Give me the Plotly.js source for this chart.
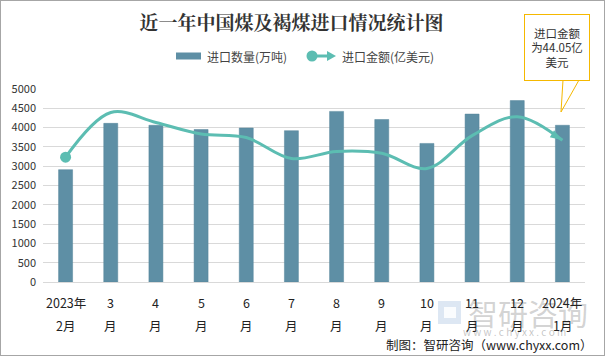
<!DOCTYPE html>
<html><head><meta charset="utf-8">
<script src="https://cdn.plot.ly/plotly-3.0.1.min.js"></script>
<style>
html,body{margin:0;padding:0;background:#fff;}
#c{width:605px;height:356px;box-sizing:border-box;border:1px solid #a6a6a6;}
</style></head><body>
<div id="c"></div>
<script>
const categories = ['2023年2月','3月','4月','5月','6月','7月','8月','9月','10月','11月','12月','2024年1月'];
const tickTop = ['2023年','3','4','5','6','7','8','9','10','11','12','2024年'];
const tickBottom = ['2月','月','月','月','月','月','月','月','月','月','月','1月'];
const volume = [2910, 4110, 4060, 3950, 3990, 3920, 4420, 4210, 3590, 4350, 4700, 4060];
const amount = [38.8, 52.7, 49.6, 46.0, 44.9, 38.4, 40.6, 40.0, 35.3, 45.5, 51.4, 44.05];
const yTicks = [0,500,1000,1500,2000,2500,3000,3500,4000,4500,5000];
const seriesNames = ['进口数量(万吨)', '进口金额(亿美元)'];

const font = '"Microsoft YaHei", "Noto Sans CJK SC", sans-serif';
const barColor = '#5E8FA5';
const lineColor = '#5CBDB2';
const n = amount.length;

const traces = [
  {type:'bar', name:seriesNames[0], x:categories, y:volume,
   marker:{color:barColor, line:{color:'#55849a', width:0.5}}, width:0.31},
  {type:'scatter', mode:'lines', name:seriesNames[1], x:categories, y:amount, yaxis:'y2',
   line:{color:lineColor, width:3, shape:'spline', smoothing:1}},
  {type:'scatter', mode:'markers', x:[categories[0]], y:[amount[0]], yaxis:'y2',
   marker:{color:lineColor, symbol:'circle', size:11}},
  {type:'scatter', mode:'markers', x:[categories[n-1]], y:[amount[n-1]], yaxis:'y2',
   marker:{color:lineColor, symbol:'arrow', size:13, angle:122, standoff:0}}
];

// helpers: paper coords from pixel coords (plot area 42..584 x, 88..281 y)
const PL=42, PR=584, PT=88, PB=281;
const px = v => (v-PL)/(PR-PL);
const py = v => (PB-v)/(PB-PT);

const annotations = [];
// watermark first so that axis labels sit on top of it
annotations.push(
  {xref:'paper', yref:'paper', x:px(527), y:py(311), xanchor:'center', yanchor:'middle', showarrow:false,
   text:'智研咨询', font:{size:30, color:'rgba(150,150,150,0.42)'}},
  {xref:'paper', yref:'paper', x:px(513), y:py(330), xanchor:'center', yanchor:'middle', showarrow:false,
   text:'w w w . c h y x x . c o m', font:{size:10, color:'rgba(150,150,150,0.55)'}}
);
categories.forEach((c,i)=>{
  annotations.push({xref:'x', yref:'paper', x:c, y:py(301), showarrow:false, xanchor:'center', yanchor:'middle',
    text:tickTop[i], font:{size:12.5, color:'#222'}});
  annotations.push({xref:'x', yref:'paper', x:c, y:py(324), showarrow:false, xanchor:'center', yanchor:'middle',
    text:tickBottom[i], font:{size:12.5, color:'#222'}});
});
annotations.push(
  {xref:'paper', yref:'paper', x:px(594), y:py(343), xanchor:'right', yanchor:'middle', showarrow:false,
   text:'制图：智研咨询（www.chyxx.com）', font:{family:'"Noto Sans CJK SC", sans-serif', size:12.5, color:'#222'}},
  {xref:'paper', yref:'paper', x:px(204), y:py(55), xanchor:'left', yanchor:'middle', showarrow:false,
   text:seriesNames[0], font:{size:12, color:'#444'}},
  {xref:'paper', yref:'paper', x:px(339), y:py(55), xanchor:'left', yanchor:'middle', showarrow:false,
   text:seriesNames[1], font:{size:12, color:'#444'}},
  {xref:'paper', yref:'paper', x:px(556), y:py(46.5), xanchor:'center', yanchor:'middle', showarrow:false,
   text:'进口金额<br>为44.05亿<br>美元', align:'center', font:{size:11.5, color:'#333'},
   bordercolor:'#F5B800', borderwidth:1, borderpad:2, bgcolor:'#fff', width:60, height:61}
);

const shapes = [
  // callout tail
  {type:'path', xref:'paper', yref:'paper', layer:'above',
   path:`M ${px(562)} ${py(79)} L ${px(560)} ${py(111)} L ${px(578)} ${py(79)}`,
   line:{color:'#F5B800', width:1}},
  // legend bar symbol
  {type:'rect', xref:'paper', yref:'paper', x0:px(175), x1:px(200), y0:py(58.5), y1:py(51.5),
   fillcolor:barColor, line:{width:0}},
  // legend line symbol
  {type:'line', xref:'paper', yref:'paper', x0:px(310), x1:px(330), y0:py(55), y1:py(55),
   line:{color:lineColor, width:3}},
  {type:'circle', xref:'paper', yref:'paper', x0:px(305.5), x1:px(316.5), y0:py(60.5), y1:py(49.5),
   fillcolor:lineColor, line:{width:0}},
  {type:'path', xref:'paper', yref:'paper',
   path:`M ${px(326)} ${py(50)} L ${px(335)} ${py(55)} L ${px(326)} ${py(60)} Z`,
   fillcolor:lineColor, line:{width:0}},
  // watermark logo
  {type:'rect', xref:'paper', yref:'paper', x0:px(437), x1:px(460), y0:py(323), y1:py(300),
   fillcolor:'rgba(170,195,225,0.4)', line:{width:0}},
  {type:'rect', xref:'paper', yref:'paper', x0:px(443), x1:px(455), y0:py(317), y1:py(306),
   fillcolor:'rgba(255,255,255,0.85)', line:{width:0}}
];

const layout = {
  width:605, height:356,
  margin:{l:PL, r:605-PR, t:PT, b:356-PB},
  paper_bgcolor:'rgba(0,0,0,0)', plot_bgcolor:'rgba(0,0,0,0)',
  font:{family:font, size:12, color:'#333'},
  title:{text:'<b>近一年中国煤及褐煤进口情况统计图</b>', x:0.48, xanchor:'center', y:1-22/356, yanchor:'middle',
         font:{family:'"Noto Serif CJK SC", "Noto Sans CJK SC", serif', size:19, color:'#333'}},
  showlegend:false,
  xaxis:{type:'category', range:[-0.5, 11.5], showticklabels:false, showline:true, linecolor:'#d9d9d9',
         ticks:'', showgrid:false},
  yaxis:{range:[0,5000], tickvals:yTicks, tickfont:{size:11, color:'#333'}, showgrid:true,
         gridcolor:'#d9d9d9', gridwidth:1, zeroline:true, zerolinecolor:'#d9d9d9', ticks:'', ticklabelstandoff:6},
  yaxis2:{range:[0,60], overlaying:'y', side:'right', visible:false, showgrid:false},
  shapes:shapes,
  annotations:annotations
};
Plotly.newPlot('c', traces, layout, {displayModeBar:false, staticPlot:true});
</script></body></html>
